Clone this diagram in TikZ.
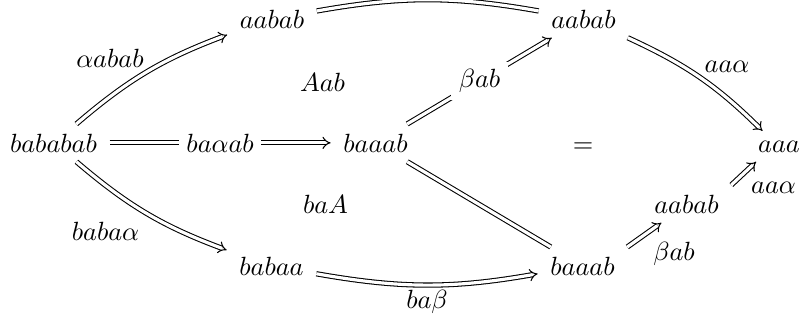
\documentclass[tikz,border=0pt]{standalone}
\usetikzlibrary{arrows.meta}
\begin{document}
\begin{tikzpicture}[x=0.3797pt,y=0.3797pt,
  obj/.style={anchor=base, inner xsep=4.6pt, inner ysep=3.5pt},
  lab/.style={anchor=base, inner sep=0pt},
  dbl/.style={double, double distance=1.2pt, line width=0.4pt},
  imp/.style={dbl, -{Implies}},
  desc/.style={fill=white, inner sep=2.8pt, anchor=center}]
\useasboundingbox (0,0) rectangle (801,321);
% objects
\node[obj] (n1) at (53.5,169) {$bababab$};
\node[obj] (n2) at (272,293) {$aabab$};
\node[obj] (n3) at (583.5,293) {$aabab$};
\node[obj] (n4) at (375.5,169) {$baaab$};
\node[obj] (n5) at (271.5,46) {$babaa$};
\node[obj] (n6) at (582.5,46) {$baaab$};
\node[obj] (n7) at (686.5,108) {$aabab$};
\node[obj] (n8) at (779,169) {$aaa$};
% arrows
\draw[imp] (n1) to[bend left=10] (n2);
\draw[dbl] (n2) to[bend left=10] (n3);
\draw[imp] (n3) to[bend left=10] (n8);
\draw[imp] (n1) -- node[desc] (d1) {$ba\alpha ab$} (n4);
\draw[imp] (n4) -- node[desc] (d2) {$\beta ab$} (n3);
\draw[dbl] (n4) -- (n6);
\draw[imp] (n1) to[bend right=10] (n5);
\draw[imp] (n5) to[bend right=10] (n6);
\draw[imp] (n6.north east) -- (n7.217);
\draw[imp] (n7.north east) -- (n8.214);
% labels
\node[lab] (l1) at (110,254) {$\alpha abab$};
\node[lab] (l2) at (322.5,230) {$Aab$};
\node[lab] (l3) at (325.5,108) {$baA$};
\node[lab] (l4) at (105.5,81) {$baba\alpha$};
\node[lab] (l5) at (583,169) {$=$};
\node[lab] (l6) at (727,249) {$aa\alpha$};
\node[lab] (l7) at (773.5,128) {$aa\alpha$};
\node[lab] (l8) at (674,61) {$\beta ab$};
\node[lab] (l9) at (427,13) {$ba\beta$};
\end{tikzpicture}
\end{document}
